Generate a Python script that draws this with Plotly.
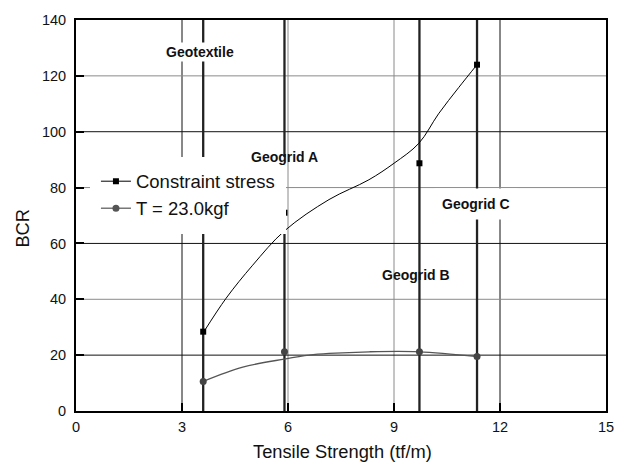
import plotly.graph_objects as go

# Reinforcement materials and their tensile strengths (tf/m)
materials = ["Geotextile", "Geogrid A", "Geogrid B", "Geogrid C"]
tensile_strength = [3.6, 5.9, 9.72, 11.35]

# Measured bearing capacity ratios
bcr_constraint = [28.4, 71.0, 88.7, 124.0]
bcr_tension = [10.6, 21.2, 21.2, 19.5]

# Fitted trend curves
trend_constraint_x = [3.62, 4.25, 5.0, 5.9, 7.16, 8.29, 9.0, 9.7, 10.26, 10.83, 11.35]
trend_constraint_y = [28.4, 40.4, 52.2, 64.5, 75.7, 82.8, 88.7, 95.8, 106.4, 115.8, 124.0]
trend_tension_x = [3.6, 4.72, 5.9, 6.6, 7.16, 8.3, 9.7, 11.35]
trend_tension_y = [10.6, 15.7, 18.6, 20.0, 20.6, 21.2, 21.2, 19.5]

x_ticks = [0, 3, 6, 9, 12, 15]
y_ticks = [0, 20, 40, 60, 80, 100, 120, 140]
dark_x_grid = [3, 12]
dark_y_grid = [20, 60, 100]

FONT = "Arial, Liberation Sans, sans-serif"
DARK = "#111111"
GREY_GRID = "#8a8a8a"

fig = go.Figure()

# trend curves
fig.add_trace(go.Scatter(
    x=trend_constraint_x, y=trend_constraint_y, mode="lines",
    line=dict(color="#000000", width=1, shape="spline", smoothing=1.0),
    showlegend=False, hoverinfo="skip"))
fig.add_trace(go.Scatter(
    x=trend_tension_x, y=trend_tension_y, mode="lines",
    line=dict(color="#555555", width=1.3, shape="spline", smoothing=1.0),
    showlegend=False, hoverinfo="skip"))

# measured points
fig.add_trace(go.Scatter(
    x=tensile_strength, y=bcr_constraint, mode="markers",
    marker=dict(symbol="square", size=6, color="#000000"),
    showlegend=False))
fig.add_trace(go.Scatter(
    x=tensile_strength, y=bcr_tension, mode="markers",
    marker=dict(symbol="circle", size=7, color="#444444"),
    showlegend=False))

# legend entries (line + marker)
fig.add_trace(go.Scatter(
    x=[None], y=[None], mode="lines+markers", name="Constraint stress",
    line=dict(color="#000000", width=1),
    marker=dict(symbol="square", size=6, color="#000000")))
fig.add_trace(go.Scatter(
    x=[None], y=[None], mode="lines+markers", name="T = 23.0kgf",
    line=dict(color="#777777", width=1.3),
    marker=dict(symbol="circle", size=7, color="#555555")))

# grid lines: alternating grey / dark
for gx in x_ticks[1:-1]:
    col = DARK if gx in dark_x_grid else GREY_GRID
    fig.add_shape(type="line", xref="x", yref="paper", x0=gx, x1=gx, y0=0, y1=1,
                  line=dict(color=col, width=1), layer="between")
for gy in y_ticks[1:-1]:
    col = DARK if gy in dark_y_grid else GREY_GRID
    fig.add_shape(type="line", xref="paper", yref="y", x0=0, x1=1, y0=gy, y1=gy,
                  line=dict(color=col, width=1), layer="between")

# vertical marker lines at each material's tensile strength
for ts in tensile_strength:
    fig.add_shape(type="line", xref="x", yref="paper", x0=ts, x1=ts, y0=0, y1=1,
                  line=dict(color="#222222", width=2.3), layer="between")

# material labels
label_pos = {
    "Geotextile": (3.52, 128.7, 1),
    "Geogrid A": (5.89, 90.8, None),
    "Geogrid B": (9.63, 48.8, None),
    "Geogrid C": (11.33, 74.0, 7),
}
for name in materials:
    lx, ly, pad = label_pos[name]
    ann = dict(x=lx, y=ly, xref="x", yref="y", text=f"<b>{name}</b>",
               showarrow=False, font=dict(family=FONT, size=14, color=DARK),
               xanchor="center", yanchor="middle")
    if pad is not None:
        ann.update(bgcolor="white", borderpad=pad)
    fig.add_annotation(**ann)

# axis titles
fig.add_annotation(x=0.502, y=-0.1035, xref="paper", yref="paper",
                   text="Tensile Strength (tf/m)", showarrow=False,
                   font=dict(family=FONT, size=18.3, color=DARK),
                   xanchor="center", yanchor="middle")
fig.add_annotation(x=-0.1015, y=0.467, xref="paper", yref="paper",
                   text="BCR", showarrow=False, textangle=-90,
                   font=dict(family=FONT, size=18.3, color=DARK),
                   xanchor="center", yanchor="middle")

axis_common = dict(
    showline=True, linecolor="#000000", linewidth=2, mirror=True,
    showgrid=False, zeroline=False,
    ticks="inside", ticklen=8, tickwidth=2, tickcolor="#000000",
    tickfont=dict(family=FONT, size=14.5, color=DARK),
)

fig.update_xaxes(range=[0, 15], tickvals=x_ticks, ticklabelstandoff=2, **axis_common)
fig.update_yaxes(range=[0, 140], tickvals=y_ticks, ticklabelstandoff=5, **axis_common)

fig.update_layout(
    width=626, height=466,
    margin=dict(l=76, r=18, t=13, b=55),
    paper_bgcolor="white", plot_bgcolor="white",
    font=dict(family=FONT, color=DARK),
    legend=dict(x=(90 - 76) / 532, y=0.552, xanchor="left", yanchor="middle",
                bgcolor="white", bordercolor="white", borderwidth=6,
                itemwidth=30,
                font=dict(family=FONT, size=18.5, color=DARK),
                tracegroupgap=0),
)

fig.write_html("out.html")
